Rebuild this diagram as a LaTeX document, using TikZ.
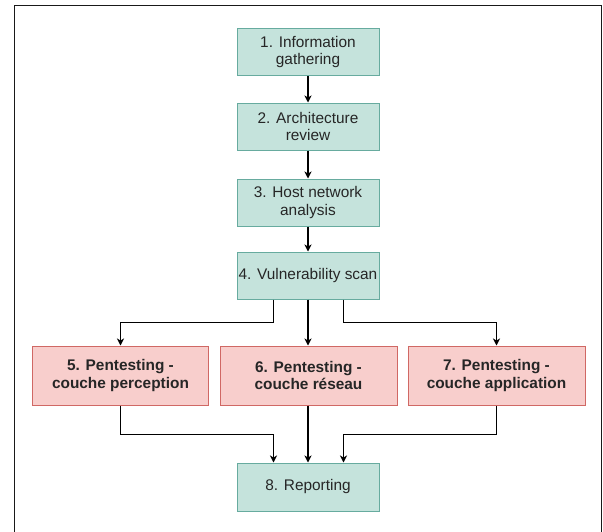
\documentclass[tikz,border=0pt]{standalone}
\usepackage{fontspec}
\setmainfont{Liberation Sans}
\usetikzlibrary{arrows.meta}
\definecolor{tealfill}{RGB}{197,227,220}
\definecolor{tealline}{RGB}{103,171,159}
\definecolor{redfill}{RGB}{248,206,204}
\definecolor{redline}{RGB}{208,104,100}
\begin{document}
\begin{tikzpicture}[x=1pt,y=-1pt,
  phase/.style={draw=tealline, fill=tealfill, line width=1pt, inner sep=0pt,
    align=center, font=\fontsize{15.4}{17.5}\selectfont, text=black!85},
  pentest/.style={draw=redline, fill=redfill, line width=1pt, inner sep=0pt,
    align=center, font=\bfseries\fontsize{15.4}{17.5}\selectfont, text=black!85},
  flow/.style={line width=1.2pt, -{Stealth[length=7pt,width=7pt,inset=2pt]}}]
\useasboundingbox (0,0) rectangle (603,531);
% open frame: left, top and right sides
\begin{scope}
\clip (0,0) rectangle (603,531);
\draw[line width=1.6pt, black!90] (14.5,540) -- (14.5,5.5) -- (601.5,5.5) -- (601.5,540);
\end{scope}
% phase boxes
\node[phase, minimum width=142pt, minimum height=47pt] (s1) at (308,52) {1. Information\\gathering};
\node[phase, minimum width=142pt, minimum height=47pt] (s2) at (308,126.5) {2. Architecture\\review};
\node[phase, minimum width=142pt, minimum height=47pt] (s3) at (308,202.5) {3. Host network\\analysis};
\node[phase, minimum width=142pt, minimum height=47pt] (s4) at (308,275.5) {4. Vulnerability scan};
\node[pentest, minimum width=176pt, minimum height=59pt] (p5) at (120.5,375.5) {5. Pentesting -\\couche perception};
\node[pentest, minimum width=177pt, minimum height=59pt] (p6) at (308.5,375.5) {6. Pentesting -\\couche réseau};
\node[pentest, minimum width=177pt, minimum height=59pt] (p7) at (496.5,375.5) {7. Pentesting -\\couche application};
\node[phase, minimum width=142pt, minimum height=48pt] (s8) at (308,487) {8. Reporting};
% sequential phases
\draw[flow] (s1) -- (s2);
\draw[flow] (s2) -- (s3);
\draw[flow] (s3) -- (s4);
% branching into the three layers
\draw[flow] (s4.south -| 273.5,0) |- (120.5,322.5) -- (p5.north -| 120.5,0);
\draw[flow] (s4.south) -- (s4.south |- p6.north);
\draw[flow] (s4.south -| 343.5,0) |- (496.5,322.5) -- (p7.north -| 496.5,0);
% merging into the report
\draw[flow] (p5.south -| 120.5,0) |- (273.5,434.5) -- (s8.north -| 273.5,0);
\draw[flow] (p6.south -| 308,0) -- (s8.north -| 308,0);
\draw[flow] (p7.south -| 496.5,0) |- (343.5,434.5) -- (s8.north -| 343.5,0);
\end{tikzpicture}
\end{document}
